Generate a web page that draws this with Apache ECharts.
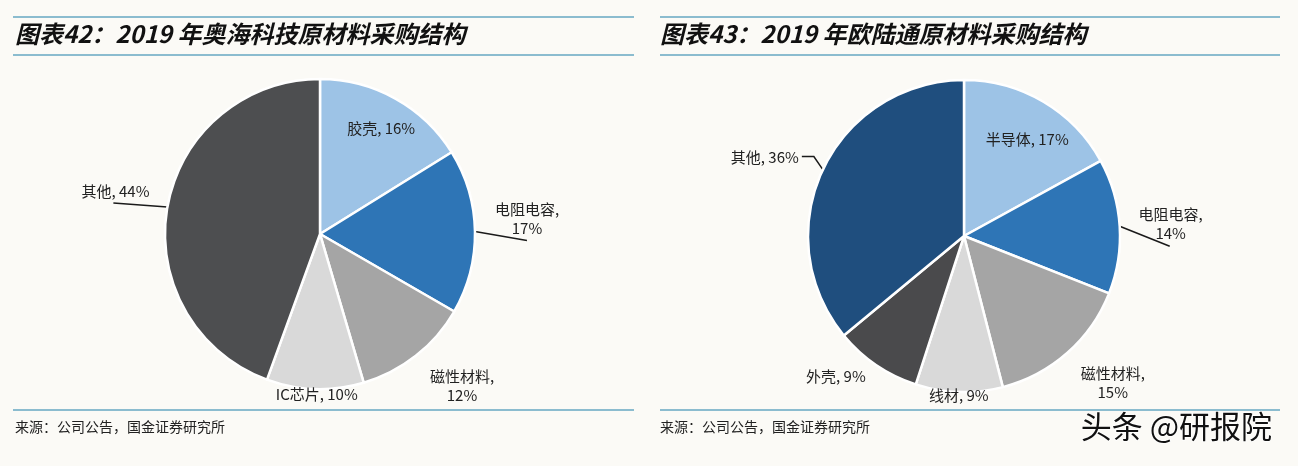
<!DOCTYPE html>
<html>
<head>
<meta charset="utf-8">
<script src="https://cdn.jsdelivr.net/npm/echarts@6/dist/echarts.min.js"></script>
<style>
html,body{margin:0;padding:0;background:#fbfaf6;}
#c{width:1298px;height:466px;}
</style>
</head>
<body>
<div id="c"></div>
<script>
// ---- data ----
const leftTitle = '图表42：2019 年奥海科技原材料采购结构';
const leftCategories = ['胶壳', '电阻电容', '磁性材料', 'IC芯片', '其他'];
const leftValues = [16, 17, 12, 10, 44];

const rightTitle = '图表43：2019 年欧陆通原材料采购结构';
const rightCategories = ['半导体', '电阻电容', '磁性材料', '线材', '外壳', '其他'];
const rightValues = [17, 14, 15, 9, 9, 36];

const sourceText = '来源：公司公告，国金证券研究所';
const watermark = '头条 @研报院';

// ---- styles ----
const leftColors = ['#9dc3e6', '#2e75b6', '#a5a5a5', '#d9d9d9', '#4d4e50'];
const rightColors = ['#9dc3e6', '#2e75b6', '#a5a5a5', '#d9d9d9', '#4a4a4c', '#1f4e7e'];
const twoLine = {'电阻电容': true, '磁性材料': true};

// label tweaks (layout only): dx, dy relative to default; align; line end offset from slice edge
const leftTweaks = [
  {inside: true, dx: 22, dy: -35},
  {dx: 27, dy: -13, align: 'center', line: [[52, 9]]},
  {dx: 25, dy: 22, align: 'center'},
  {dx: 17, dy: -5, align: 'center'},
  {dx: 7, dy: -14, line: [[-54, -4]]}
];
const rightTweaks = [
  {inside: true, dx: 22, dy: -27},
  {dx: 26, dy: -2, align: 'center', line: [[50, 20]]},
  {dx: 24, dy: 22, align: 'center'},
  {dx: 15, dy: -7, align: 'center'},
  {dx: 10, dy: 3},
  {dx: 0, dy: -8, line: [[-9, -13], [-21, -13]]}
];

function buildData(cats, vals, colors, tweaks) {
  return cats.map((c, i) => {
    const t = tweaks[i];
    const item = {name: c, value: vals[i], itemStyle: {color: colors[i]}};
    if (t.inside) {
      item.label = {position: 'inside'};
    }
    item.labelLine = {show: !!t.line};
    return item;
  });
}

function makeLayout(tweaks) {
  return function (p) {
    const t = tweaks[p.dataIndex];
    const res = {dx: t.dx, dy: t.dy};
    if (t.align) res.align = t.align;
    if (t.line && p.labelLinePoints) {
      const p0 = p.labelLinePoints[0];
      const pts = [[p0[0], p0[1]]];
      t.line.forEach(o => pts.push([p0[0] + o[0], p0[1] + o[1]]));
      res.labelLinePoints = pts;
    }
    return res;
  };
}

const labelFont = {
  fontFamily: '"Noto Sans CJK SC", sans-serif',
  fontSize: 15,
  color: '#222',
  lineHeight: 19
};

function pieSeries(cats, vals, colors, tweaks, center, radius) {
  return {
    type: 'pie',
    center: center,
    radius: radius,
    startAngle: 90,
    clockwise: true,
    avoidLabelOverlap: false,
    animation: false,
    silent: true,
    itemStyle: {borderColor: '#ffffff', borderWidth: 2.5},
    label: Object.assign({
      show: true,
      position: 'outside',
      formatter: p => twoLine[p.name] ? p.name + ',\n' + p.value + '%' : p.name + ', ' + p.value + '%'
    }, labelFont),
    labelLine: {show: true, length: 10, length2: 10, lineStyle: {color: '#1a1a1a', width: 1.5}},
    labelLayout: makeLayout(tweaks),
    data: buildData(cats, vals, colors, tweaks)
  };
}

const lineColor = '#8bbccf';
function hline(x1, x2, y) {
  return {type: 'line', shape: {x1: x1, y1: y, x2: x2, y2: y}, style: {stroke: lineColor, lineWidth: 2}, silent: true};
}
function titleText(x, text) {
  return {type: 'text', left: x, top: 22, style: {text: text, font: 'italic bold 24px "Noto Sans CJK SC", sans-serif', fill: '#111'}, silent: true};
}
function srcText(x) {
  return {type: 'text', left: x, top: 420, style: {text: sourceText, font: '14px "Noto Sans CJK SC", sans-serif', fill: '#222'}, silent: true};
}

const chart = echarts.init(document.getElementById('c'), null, {renderer: 'canvas'});
chart.setOption({
  backgroundColor: '#fbfaf6',
  animation: false,
  graphic: [
    hline(13, 634, 17), hline(13, 634, 55), hline(13, 634, 410),
    hline(660, 1280, 17), hline(660, 1280, 55), hline(660, 1280, 410),
    titleText(15, leftTitle), titleText(660, rightTitle),
    srcText(15), srcText(660),
    {type: 'text', left: 1080, top: 410, style: {text: watermark, font: '31px "Noto Sans CJK SC", sans-serif', fill: '#111', stroke: '#ffffff', lineWidth: 1.5, shadowColor: 'rgba(255,255,255,0.9)', shadowOffsetX: 2, shadowOffsetY: 2}, silent: true}
  ],
  series: [
    pieSeries(leftCategories, leftValues, leftColors, leftTweaks, [320, 234], 155),
    pieSeries(rightCategories, rightValues, rightColors, rightTweaks, [964, 236], 156)
  ]
});
</script>
</body>
</html>
